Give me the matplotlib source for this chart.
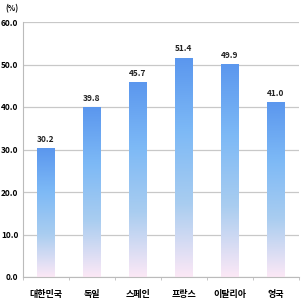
import numpy as np
import matplotlib
matplotlib.use('Agg')
import matplotlib.pyplot as plt
from matplotlib.colors import LinearSegmentedColormap

plt.rcParams['font.family'] = ['Noto Sans CJK KR', 'DejaVu Sans']

countries = ['대한민국', '독일', '스페인', '프랑스', '이탈리아', '영국']
values = [30.2, 39.8, 45.7, 51.4, 49.9, 41.0]
yticks = [0, 10, 20, 30, 40, 50, 60]

# bar gradient: pink at bottom -> light blue -> blue at top
cmap = LinearSegmentedColormap.from_list('bar', ['#fce8f6', '#a9cdf0', '#7db9f6', '#5b97ee'])

fig = plt.figure(figsize=(3.02, 3.02), dpi=100)
ax = fig.add_axes([22.5/302, 25/302, 276/302, 255/302])

x = np.arange(len(countries))
w = 0.39
grad = np.linspace(0, 1, 256).reshape(-1, 1)
for xi, v in zip(x, values):
    ax.imshow(grad, extent=[xi - w/2, xi + w/2, 0, v], origin='lower',
              cmap=cmap, aspect='auto', zorder=2, interpolation='bilinear')
    ax.text(xi, v + 1.2, '%.1f' % v, ha='center', va='bottom',
            fontsize=6, fontweight='bold', color='#222222')

ax.set_xlim(-0.5, len(countries) - 0.5)
ax.set_ylim(0, 60)
ax.set_yticks(yticks)
ax.set_yticklabels(['%.1f' % t for t in yticks], fontsize=6, fontweight='bold')
ax.set_xticks(x)
ax.set_xticklabels(countries, fontsize=6.5, fontweight='bold')
ax.set_xticks(np.arange(len(countries) + 1) - 0.5, minor=True)
ax.tick_params(axis='x', which='major', length=0, pad=9)
ax.tick_params(axis='x', which='minor', length=2, color='#bbbbbb')
ax.tick_params(axis='y', length=0, pad=3)
ax.grid(axis='y', color='#c8c8c8', linewidth=0.9, zorder=0)
for s in ['top', 'right']:
    ax.spines[s].set_visible(False)
ax.spines['left'].set_color('#bbbbbb')
ax.spines['bottom'].set_color('#bbbbbb')
ax.set_axisbelow(True)

fig.text(5/302, 1 - 9/302, '(%)', fontsize=5.5, fontweight='bold', va='center')

fig.savefig('out.png', dpi=100)
